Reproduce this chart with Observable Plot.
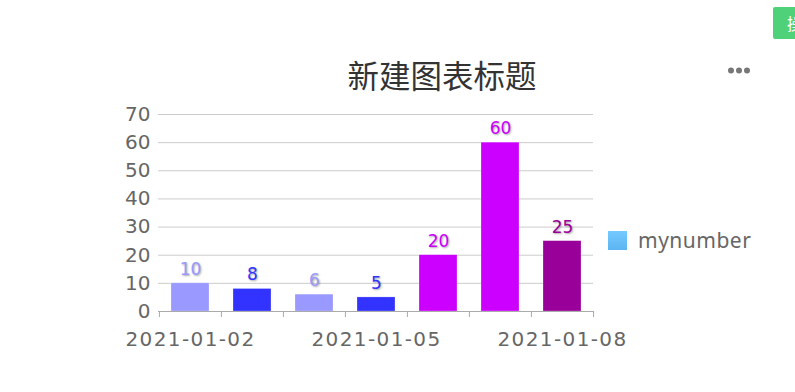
<!DOCTYPE html>
<html>
<head>
<meta charset="utf-8">
<script src="https://cdn.jsdelivr.net/npm/d3@7"></script>
<script src="https://cdn.jsdelivr.net/npm/@observablehq/plot@0.6"></script>
<style>
  html, body { margin: 0; padding: 0; background: #fff; width: 795px; height: 392px; overflow: hidden; }
  #wrap { position: relative; width: 795px; height: 392px; }
  #chart { position: absolute; left: 0; top: 0; }
  #title { position: absolute; left: 242px; width: 400px; top: 52px; height: 44px; line-height: 44px; text-align: center;
           font-family: "Noto Sans CJK SC", sans-serif; font-size: 31.5px; color: #333; }
  #more { position: absolute; left: 726px; top: 66px; font-family: "DejaVu Sans", sans-serif; }
  #btn { position: absolute; left: 773px; top: 7px; width: 60px; height: 32px; background: #4fd17a; color: #fff;
         font-family: "Noto Sans CJK SC", sans-serif; font-size: 16px; line-height: 32px; padding-left: 14px; box-sizing: border-box; border-radius: 2px; white-space: nowrap; }
  #legend { position: absolute; left: 608px; top: 227px; height: 26px; display: flex; align-items: center;
            font-family: "Noto Sans", sans-serif; font-size: 21px; letter-spacing: 0.5px; color: #666; }
  #legend .sw { width: 19px; height: 19px; background: linear-gradient(#74c9ff, #5cb5f2); margin-right: 11px; }
  svg text.lbl, svg .lbl text { text-shadow: 1px 1px 2px rgba(0,0,0,0.35); }
  svg g[aria-label="x-axis tick label"] text { letter-spacing: 1.4px; }
</style>
</head>
<body>
<div id="wrap">
  <div id="chart"></div>
  <div id="title">新建图表标题</div>
  <svg id="more" width="28" height="10"><circle cx="5" cy="4.5" r="3" fill="#777"/><circle cx="13" cy="4.5" r="3" fill="#777"/><circle cx="21" cy="4.5" r="3" fill="#777"/></svg>
  <div id="btn">操作</div>
  <div id="legend"><div class="sw"></div><span>mynumber</span></div>
</div>
<script>
const dates = ["2021-01-02", "2021-01-03", "2021-01-04", "2021-01-05", "2021-01-06", "2021-01-07", "2021-01-08"];
const values = [10, 8, 6, 5, 20, 60, 25];
const palette = ["#9999ff", "#3333ff", "#9999ff", "#3333ff", "#cc00ff", "#cc00ff", "#990099"];
const yTicks = [0, 10, 20, 30, 40, 50, 60, 70];
const xLabelTicks = ["2021-01-02", "2021-01-05", "2021-01-08"];

const rows = dates.map((d, i) => ({date: d, value: values[i]}));

const marginLeft = 158, marginRight = 202;
const step = (795 - marginLeft - marginRight) / dates.length;

const chart = Plot.plot({
  width: 795,
  height: 392,
  marginLeft, marginRight,
  marginTop: 114,
  marginBottom: 81,
  x: {type: "band", domain: dates, paddingInner: 0.39, paddingOuter: 0.195, axis: null},
  y: {domain: [0, 70], axis: null},
  color: {type: "ordinal", domain: dates, range: palette},
  style: {fontFamily: "DejaVu Sans, sans-serif", fontSize: "20px", color: "#666", background: "transparent", overflow: "visible"},
  marks: [
    Plot.gridY({ticks: yTicks, stroke: "#ccc", strokeOpacity: 1}),
    Plot.axisY({ticks: yTicks, tickSize: 0, tickPadding: 8, fill: "#666", fontSize: 20, label: null}),
    Plot.barY(rows, {x: "date", y: "value", fill: "date", stroke: "#fff", strokeOpacity: 0.5, strokeWidth: 0.5}),
    Plot.ruleY([0], {stroke: "#aaa"}),
    Plot.axisX({ticks: dates, tickSize: 6, tickFormat: () => "", dx: -step / 2, stroke: "#aaa", label: null}),
    Plot.axisX({ticks: [dates[dates.length - 1]], tickSize: 6, tickFormat: () => "", dx: step / 2, stroke: "#aaa", label: null}),
    Plot.axisX({ticks: xLabelTicks, tickSize: 0, tickPadding: 20, fill: "#666", fontSize: 20, label: null}),
    Plot.text(rows, {x: "date", y: "value", text: d => String(d.value), fill: "date", dy: -14, fontSize: 17, className: "lbl"})
  ]
});
document.getElementById("chart").appendChild(chart);
</script>
</body>
</html>
